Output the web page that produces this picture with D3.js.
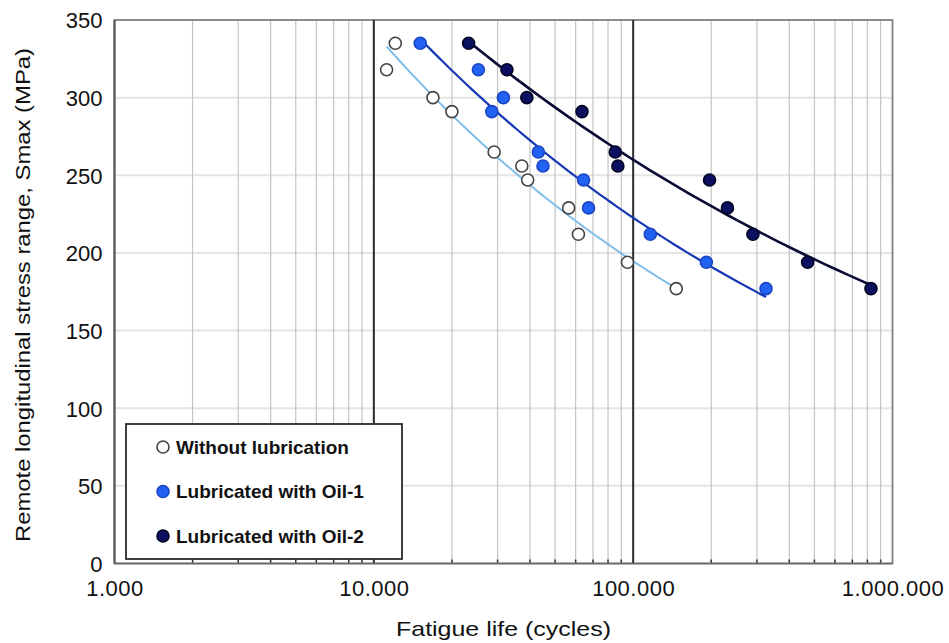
<!DOCTYPE html>
<html>
<head>
<meta charset="utf-8">
<script src="https://cdn.jsdelivr.net/npm/d3@7"></script>
<style>
  html, body { margin: 0; padding: 0; background: #fff; }
  svg text { font-family: "Liberation Sans", Arial, sans-serif; fill: #111; }
</style>
</head>
<body>
<div id="chart"></div>
<script>
// stress levels shared by all three test series (MPa)
const stress = [335, 318, 300, 291, 265, 256, 247, 229, 212, 194, 177];

// cycles to failure, same order as stress
const cyclesDry = [12100, 11200, 16900, 20000, 29100, 37200, 39200, 56400, 61500, 95100, 146600];
const cyclesOil1 = [15100, 25300, 31600, 28500, 43100, 44900, 64400, 67300, 116400, 191500, 325300];
const cyclesOil2 = [23200, 32600, 38900, 63500, 85300, 87300, 197000, 231000, 289600, 470700, 826000];

const seriesNames = ["Without lubrication", "Lubricated with Oil-1", "Lubricated with Oil-2"];
const yTicks = [0, 50, 100, 150, 200, 250, 300, 350];
const xDecades = [1000, 10000, 100000, 1000000];
const xTickLabels = ["1.000", "10.000", "100.000", "1.000.000"];

const W = 949, H = 643;
const margin = { top: 20, right: 56.5, bottom: 79.5, left: 114.5 };
const width = W - margin.left - margin.right;
const height = H - margin.top - margin.bottom;

const styles = [
  { fill: "#ffffff", stroke: "#444", line: "#7fbde8", lw: 2 },
  { fill: "#2262f2", stroke: "#1a46c4", line: "#1638b4", lw: 2.2 },
  { fill: "#0b1160", stroke: "#020422", line: "#0a0c35", lw: 2.6 },
];

const series = [cyclesDry, cyclesOil1, cyclesOil2].map((c, i) => ({
  name: seriesNames[i],
  pts: c.map((n, j) => ({ n, s: stress[j] })),
  style: styles[i],
}));

const svg = d3.select("#chart").append("svg")
  .attr("width", W).attr("height", H);

const g = svg.append("g").attr("transform", `translate(${margin.left},${margin.top})`);

const x = d3.scaleLog().domain([1000, 1000000]).range([0, width]);
const y = d3.scaleLinear().domain([0, 350]).range([height, 0]);

// horizontal grid
g.append("g").selectAll("line").data(yTicks.slice(1, -1)).join("line")
  .attr("x1", 0).attr("x2", width)
  .attr("y1", d => y(d)).attr("y2", d => y(d))
  .attr("stroke", "#e4e4e4").attr("stroke-width", 2);

// minor vertical grid (2..9 each decade)
const minor = [];
xDecades.slice(0, -1).forEach(d => { for (let k = 2; k <= 9; k++) minor.push(d * k); });
g.append("g").selectAll("line").data(minor).join("line")
  .attr("x1", d => x(d)).attr("x2", d => x(d))
  .attr("y1", 0).attr("y2", height)
  .attr("stroke", "#c4c4c4").attr("stroke-width", 1.2);
// small ticks at the bottom
g.append("g").selectAll("line").data(minor).join("line")
  .attr("x1", d => x(d)).attr("x2", d => x(d))
  .attr("y1", height - 4).attr("y2", height)
  .attr("stroke", "#333").attr("stroke-width", 1.5);

// frame
g.append("rect").attr("x", 0).attr("y", 0).attr("width", width).attr("height", height)
  .attr("fill", "none").attr("stroke", "#808080").attr("stroke-width", 1.8);

// decade lines
g.append("g").selectAll("line").data(xDecades.slice(1, -1)).join("line")
  .attr("x1", d => x(d)).attr("x2", d => x(d))
  .attr("y1", 0).attr("y2", height)
  .attr("stroke", "#2a2a2a").attr("stroke-width", 2);

// axes lines (left + bottom)
g.append("line").attr("x1", 0).attr("x2", 0).attr("y1", 0).attr("y2", height)
  .attr("stroke", "#555").attr("stroke-width", 2);
g.append("line").attr("x1", 0).attr("x2", width).attr("y1", height).attr("y2", height)
  .attr("stroke", "#666").attr("stroke-width", 1.5);

// y axis labels
const yAxis = d3.axisLeft(y).tickValues(yTicks).tickSize(0).tickPadding(12);
g.append("g").call(yAxis)
  .call(s => s.select(".domain").remove())
  .selectAll("text")
  .attr("font-size", 22).attr("dy", "0.36em")
  .style("font-family", '"Liberation Sans", Arial, sans-serif').attr("fill", "#111");

// x axis labels
const xAxis = d3.axisBottom(x).tickValues(xDecades)
  .tickFormat((d, i) => xTickLabels[i]).tickSize(0).tickPadding(17);
g.append("g").attr("transform", `translate(0,${height})`).call(xAxis)
  .call(s => s.select(".domain").remove())
  .selectAll("text")
  .attr("font-size", 22).attr("letter-spacing", 0.5)
  .style("font-family", '"Liberation Sans", Arial, sans-serif').attr("fill", "#111");

// fitted power-law curves S = A * N^b
function fit(pts) {
  const lx = pts.map(p => Math.log(p.n)), ly = pts.map(p => Math.log(p.s));
  const mx = d3.mean(lx), my = d3.mean(ly);
  const b = d3.sum(lx, (v, i) => (v - mx) * (ly[i] - my)) / d3.sum(lx, v => (v - mx) ** 2);
  const a = my - b * mx;
  return n => Math.exp(a + b * Math.log(n));
}

const line = d3.line().x(d => x(d.n)).y(d => y(d.s));

series.forEach(sr => {
  const f = fit(sr.pts);
  const [n0, n1] = d3.extent(sr.pts, p => p.n);
  const curve = d3.range(0, 61).map(i => {
    const n = Math.exp(Math.log(n0) + (Math.log(n1) - Math.log(n0)) * i / 60);
    return { n, s: f(n) };
  });
  g.append("path").datum(curve).attr("d", line)
    .attr("fill", "none").attr("stroke", sr.style.line).attr("stroke-width", sr.style.lw);
});

series.forEach(sr => {
  g.append("g").selectAll("circle").data(sr.pts).join("circle")
    .attr("cx", d => x(d.n)).attr("cy", d => y(d.s)).attr("r", 6)
    .attr("fill", sr.style.fill).attr("stroke", sr.style.stroke).attr("stroke-width", 1.6);
});

// legend
const lg = svg.append("g").attr("transform", "translate(126,424)");
lg.append("rect").attr("width", 276).attr("height", 135)
  .attr("fill", "#fff").attr("stroke", "#2a2a2a").attr("stroke-width", 1.8);
series.forEach((sr, i) => {
  const ry = 23 + i * 44.5;
  lg.append("circle").attr("cx", 37).attr("cy", ry).attr("r", 6)
    .attr("fill", sr.style.fill).attr("stroke", sr.style.stroke).attr("stroke-width", 1.6);
  lg.append("text").attr("x", 50).attr("y", ry).attr("dy", "0.36em")
    .attr("font-size", 19).attr("font-weight", "bold").text(sr.name);
});

// axis titles
svg.append("text").attr("x", margin.left + x(31623)).attr("y", 636)
  .attr("text-anchor", "middle").attr("font-size", 21)
  .attr("textLength", 215).attr("lengthAdjust", "spacingAndGlyphs")
  .text("Fatigue life (cycles)");

svg.append("text")
  .attr("transform", `translate(30,${295}) rotate(-90)`)
  .attr("text-anchor", "middle").attr("font-size", 21)
  .attr("textLength", 494).attr("lengthAdjust", "spacingAndGlyphs")
  .text("Remote longitudinal stress range, Smax (MPa)");
</script>
</body>
</html>
